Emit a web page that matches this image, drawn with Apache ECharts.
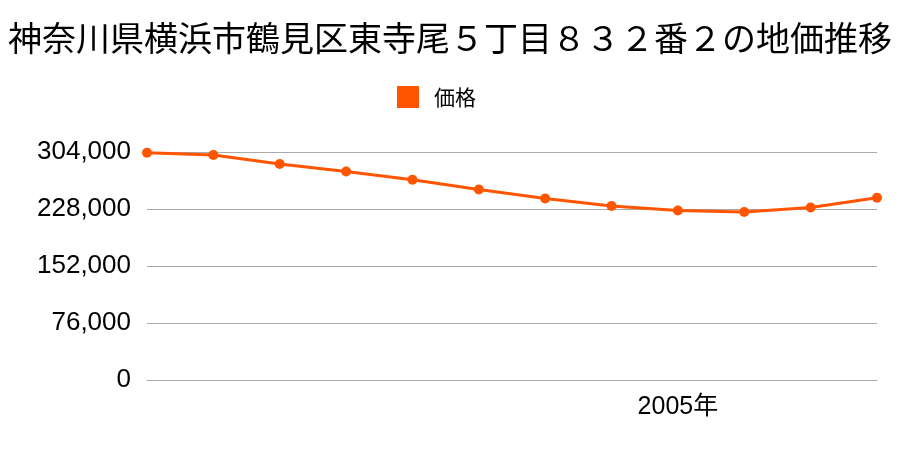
<!DOCTYPE html>
<html>
<head>
<meta charset="utf-8">
<script src="https://cdn.jsdelivr.net/npm/echarts@6/dist/echarts.min.js"></script>
<style>html,body{margin:0;padding:0;background:#fff;}#c{width:900px;height:450px;}</style>
</head>
<body>
<div id="c"></div>
<script>
const titleText = '神奈川県横浜市鶴見区東寺尾５丁目８３２番２の地価推移';
const seriesName = '価格';
const years = ['1997','1998','1999','2000','2001','2002','2003','2004','2005','2006','2007','2008'];
const prices = [303000, 300000, 288000, 278000, 267000, 254000, 242000, 232000, 226000, 224000, 230000, 243000];
const shownYearLabels = ['2005'];
const yTicks = [0, 76000, 152000, 228000, 304000];

const chart = echarts.init(document.getElementById('c'), null, {renderer: 'canvas'});
chart.setOption({
  animation: false,
  backgroundColor: '#ffffff',
  title: {
    text: titleText,
    left: 'center',
    top: 16,
    textStyle: {fontFamily: 'Noto Sans CJK JP', fontSize: 34, fontWeight: 'normal', color: '#000'}
  },
  legend: {
    data: [seriesName],
    top: 81,
    left: 392,
    icon: 'rect',
    itemWidth: 22,
    itemHeight: 22,
    textStyle: {fontFamily: 'Noto Sans CJK JP', fontSize: 21, color: '#000', padding: [0, 0, 0, 10]}
  },
  grid: {left: 147, right: 23, top: 152, bottom: 70, containLabel: false},
  xAxis: {
    type: 'category',
    data: years,
    boundaryGap: false,
    axisLine: {show: true, lineStyle: {color: '#aaaaaa', width: 1}},
    axisTick: {show: false},
    axisLabel: {
      interval: function (i, v) { return shownYearLabels.indexOf(v) >= 0; },
      formatter: function (v) { return v + '年'; },
      margin: 15,
      fontFamily: 'Liberation Sans, Noto Sans CJK JP',
      fontSize: 25,
      color: '#000'
    },
    splitLine: {show: false}
  },
  yAxis: {
    type: 'value',
    min: 0,
    max: yTicks[yTicks.length - 1],
    interval: yTicks[1] - yTicks[0],
    axisLine: {show: false},
    axisTick: {show: false},
    axisLabel: {
      margin: 16,
      fontFamily: 'Liberation Sans',
      fontSize: 26,
      color: '#000',
      formatter: function (v) { return v.toLocaleString('en-US'); }
    },
    splitLine: {show: true, lineStyle: {color: '#aaaaaa', width: 1}}
  },
  series: [{
    name: seriesName,
    type: 'line',
    data: prices,
    color: '#ff5500',
    symbol: 'circle',
    symbolSize: 10,
    lineStyle: {width: 3, color: '#ff5500'},
    itemStyle: {color: '#ff5500'}
  }]
});
</script>
</body>
</html>
